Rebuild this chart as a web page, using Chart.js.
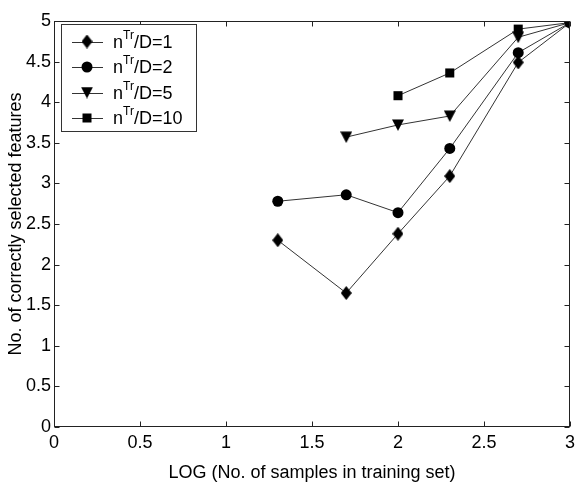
<!DOCTYPE html>
<html>
<head>
<meta charset="utf-8">
<script src="https://cdn.jsdelivr.net/npm/chart.js@4.4.1/dist/chart.umd.min.js"></script>
<style>
  body { margin: 0; background: #fff; }
  #wrap { width: 580px; height: 484px; }
</style>
</head>
<body>
<div id="wrap"><canvas id="featChart" width="580" height="484"></canvas></div>
<script>
// log10 of training set sizes (20, 50, 100, 200, 500, 1000)
const logSamples = [1.301, 1.699, 2.0, 2.301, 2.699, 3.0];

const ratio1 = [2.30, 1.65, 2.38, 3.09, 4.49, 4.98];
const ratio2 = [2.78, 2.86, 2.64, 3.43, 4.61, 4.98];
const ratio5 = [null, 3.57, 3.72, 3.83, 4.80, 4.98];
const ratio10 = [null, null, 4.08, 4.36, 4.90, 4.98];

const legendNames = ['1', '2', '5', '10'];
const xTicks = [0, 0.5, 1, 1.5, 2, 2.5, 3];
const yTicks = [0, 0.5, 1, 1.5, 2, 2.5, 3, 3.5, 4, 4.5, 5];

const FONT = '"Liberation Sans", Arial, Helvetica, sans-serif';

// marker images
const makeDiamond = () => {
    const c = document.createElement('canvas');
    c.width = 11; c.height = 14;
    const g = c.getContext('2d');
    g.fillStyle = '#000';
    g.beginPath();
    g.moveTo(5.5, 0); g.lineTo(11, 7); g.lineTo(5.5, 14); g.lineTo(0, 7);
    g.closePath(); g.fill();
    return c;
};
const makeTriangle = () => {
    const c = document.createElement('canvas');
    c.width = 12; c.height = 12;
    const g = c.getContext('2d');
    g.fillStyle = '#000';
    g.beginPath();
    g.moveTo(0, 0.5); g.lineTo(12, 0.5); g.lineTo(6, 12);
    g.closePath(); g.fill();
    return c;
};
const diamondImg = makeDiamond();
const triangleImg = makeTriangle();

const toPoints = (vals) => vals
    .map((v, i) => ({ x: logSamples[i], y: v }))
    .filter(p => p.y !== null);

const baseSet = (vals, style, radius, order) => ({
    data: toPoints(vals),
    borderColor: '#333',
    borderWidth: 1,
    backgroundColor: '#000',
    pointBackgroundColor: '#000',
    pointBorderColor: '#000',
    pointBorderWidth: 0,
    pointStyle: style,
    pointRadius: radius,
    pointHoverRadius: radius,
    tension: 0,
    order: order
});

const frameAndLegend = {
    id: 'frameAndLegend',
    afterDraw(chart) {
        const ctx = chart.ctx;
        const { left, right, top, bottom } = chart.chartArea;
        const xs = chart.scales.x, ys = chart.scales.y;
        ctx.save();
        ctx.strokeStyle = '#222';
        ctx.lineWidth = 1;
        const L = Math.round(left) + 0.5, R = Math.round(right) - 0.5;
        const T = Math.round(top) + 0.5, B = Math.round(bottom) - 0.5;
        ctx.strokeRect(L, T, R - L, B - T);
        const tl = 5;
        ctx.beginPath();
        xTicks.forEach(v => {
            const px = Math.round(xs.getPixelForValue(v)) + 0.5;
            ctx.moveTo(px, B); ctx.lineTo(px, B - tl);
            ctx.moveTo(px, T); ctx.lineTo(px, T + tl);
        });
        yTicks.forEach(v => {
            const py = Math.round(ys.getPixelForValue(v)) + 0.5;
            ctx.moveTo(L, py); ctx.lineTo(L + tl, py);
            ctx.moveTo(R, py); ctx.lineTo(R - tl, py);
        });
        ctx.stroke();

        // legend box
        const bx = 61.5, by = 24.5, bw = 135, bh = 107;
        ctx.fillStyle = '#fff';
        ctx.fillRect(bx, by, bw, bh);
        ctx.strokeStyle = '#333';
        ctx.strokeRect(bx, by, bw, bh);
        legendNames.forEach((name, i) => {
            const cy = 41.5 + i * 25.5;
            ctx.strokeStyle = '#333';
            ctx.beginPath();
            ctx.moveTo(72, Math.round(cy) + 0.5);
            ctx.lineTo(103, Math.round(cy) + 0.5);
            ctx.stroke();
            ctx.fillStyle = '#000';
            if (i === 0) ctx.drawImage(diamondImg, 87 - 5.5, cy - 7);
            if (i === 1) { ctx.beginPath(); ctx.arc(87, cy, 5.5, 0, Math.PI * 2); ctx.fill(); }
            if (i === 2) ctx.drawImage(triangleImg, 87 - 6, cy - 6);
            if (i === 3) ctx.fillRect(87 - 4.5, cy - 4.5, 9, 9);
            const base = cy + 6;
            let tx = 113;
            ctx.textBaseline = 'alphabetic';
            ctx.textAlign = 'left';
            ctx.font = '18px ' + FONT;
            ctx.fillText('n', tx, base);
            tx += ctx.measureText('n').width;
            ctx.font = '12px ' + FONT;
            ctx.fillText('Tr', tx, base - 9);
            tx += ctx.measureText('Tr').width;
            ctx.font = '18px ' + FONT;
            ctx.fillText('/D=' + name, tx, base);
        });
        ctx.restore();
    }
};

new Chart('featChart', {
    type: 'line',
    data: {
        datasets: [
            baseSet(ratio1, diamondImg, 7, 2),
            baseSet(ratio2, 'circle', 5.5, 0),
            baseSet(ratio5, triangleImg, 6, 3),
            baseSet(ratio10, 'rect', 6.4, 4)
        ]
    },
    options: {
        responsive: false,
        animation: false,
        events: [],
        layout: { padding: { top: 21, right: 9, left: 0, bottom: 0 } },
        plugins: {
            legend: { display: false },
            tooltip: { enabled: false }
        },
        scales: {
            x: {
                type: 'linear',
                min: 0, max: 3,
                afterFit: (s) => { s.height = 57; },
                afterBuildTicks: (s) => { s.ticks = xTicks.map(v => ({ value: v })); },
                grid: { display: false, drawTicks: false },
                border: { display: false },
                ticks: {
                    padding: 5, color: '#000', maxRotation: 0, autoSkip: false,
                    font: { family: FONT, size: 18 },
                    callback: (v) => String(v)
                },
                title: {
                    display: true, text: 'LOG (No. of samples in training set)', color: '#000',
                    font: { family: FONT, size: 18 }, padding: { top: 0, bottom: 0 }
                }
            },
            y: {
                type: 'linear',
                min: 0, max: 5,
                afterFit: (s) => { s.width = 54; },
                afterBuildTicks: (s) => { s.ticks = yTicks.map(v => ({ value: v })); },
                grid: { display: false, drawTicks: false },
                border: { display: false },
                ticks: {
                    padding: 3, color: '#000', autoSkip: false,
                    font: { family: FONT, size: 18 },
                    callback: (v) => String(v)
                },
                title: {
                    display: true, text: 'No. of correctly selected features', color: '#000',
                    font: { family: FONT, size: 18 }, padding: { top: 5, bottom: 0 }
                }
            }
        }
    },
    plugins: [frameAndLegend]
});
</script>
</body>
</html>
